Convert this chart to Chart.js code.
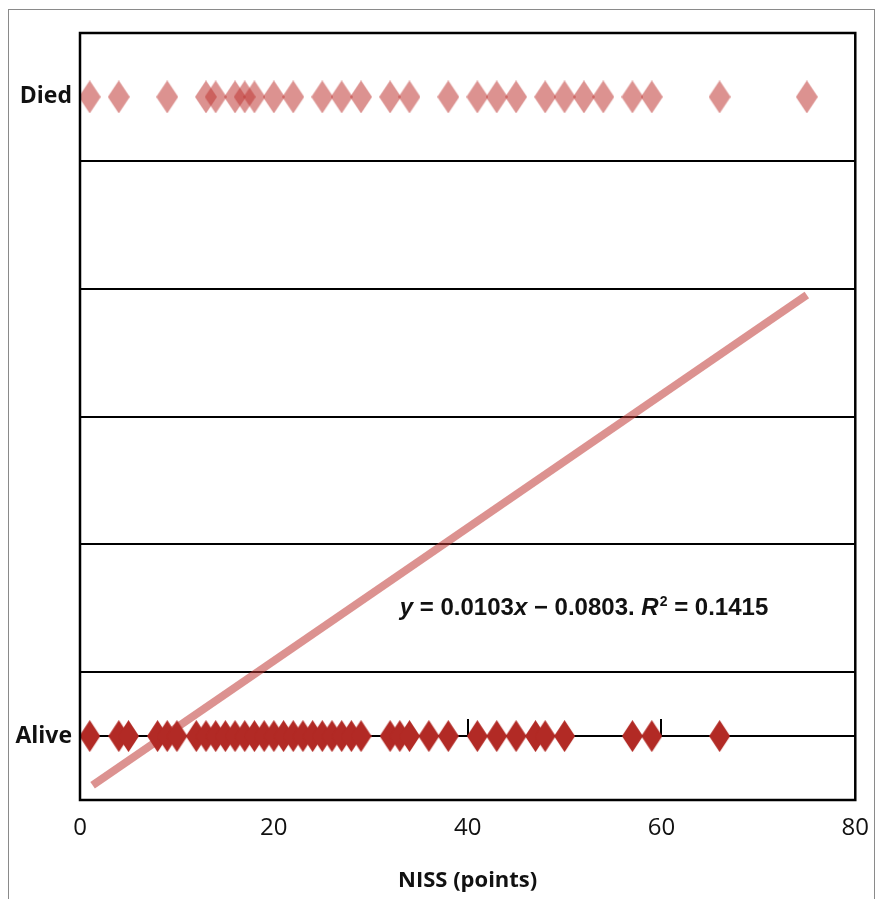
<!DOCTYPE html>
<html>
<head>
<meta charset="utf-8">
<script src="https://cdn.jsdelivr.net/npm/chart.js@4/dist/chart.umd.min.js"></script>
<style>
html, body { margin: 0; padding: 0; background: #fff; }
#wrap { position: relative; width: 883px; height: 899px; overflow: hidden; }
#frame { position: absolute; left: 8px; top: 9px; width: 867px; height: 900px; border: 1px solid #8a8a8a; border-bottom: none; box-sizing: border-box; }
canvas { position: absolute; left: 0; top: 0; }
</style>
</head>
<body>
<div id="wrap">
  <div id="frame"></div>
  <canvas id="myChart" width="883" height="899"></canvas>
</div>
<script>
// NISS of patients who died (outcome 1) and survived (outcome 0)
var diedNiss = [1, 4, 9, 13, 14, 16, 17, 18, 20, 22, 25, 27, 29, 32, 34, 38, 41, 43, 45, 48, 50, 52, 54, 57, 59, 66, 75];
var aliveNiss = [1, 4, 5, 8, 9, 10, 12, 13, 14, 15, 16, 17, 18, 19, 20, 21, 22, 23, 24, 25, 26, 27, 28, 29,
                 32, 33, 34, 36, 38, 41, 43, 45, 47, 48, 50, 57, 59, 66];
var outcomeNames = { 0: "Alive", 1: "Died" };
// fitted line y = 0.0103x - 0.0803, ends as drawn
var trendX = [1.3, 75];
var trendY = [-0.077, 0.69];
var yTickValues = [-0.1, 0, 0.1, 0.3, 0.5, 0.7, 0.9, 1, 1.1];
var xTickValues = [0, 20, 40, 60, 80];
var xMarks = [40, 60];
var equationParts = [
  { t: "y", it: true }, { t: " = 0.0103" }, { t: "x", it: true }, { t: " \u2212 0.0803. " },
  { t: "R", it: true }, { t: "2", sup: true }, { t: " = 0.1415" }
];

function diamond(w, h, color) {
  var c = document.createElement("canvas");
  c.width = w; c.height = h;
  var g = c.getContext("2d");
  g.fillStyle = color;
  g.beginPath();
  g.moveTo(w / 2, 0); g.lineTo(w, h / 2); g.lineTo(w / 2, h); g.lineTo(0, h / 2);
  g.closePath();
  g.fill();
  return c;
}

var pale = "rgba(192,57,52,0.55)";
var dark = "#b22a25";

var framePlugin = {
  id: "framePlugin",
  beforeDatasetsDraw: function (chart) {
    var ctx = chart.ctx, xs = chart.scales.x, ys = chart.scales.y;
    ctx.save();
    ctx.strokeStyle = "#000";
    ctx.lineWidth = 2;
    var y0 = ys.getPixelForValue(0);
    xMarks.forEach(function (v) {
      var px = Math.round(xs.getPixelForValue(v));
      ctx.beginPath(); ctx.moveTo(px, y0); ctx.lineTo(px, y0 - 17); ctx.stroke();
    });
    ctx.restore();
  },
  afterDraw: function (chart) {
    var ctx = chart.ctx, a = chart.chartArea, xs = chart.scales.x, ys = chart.scales.y;
    ctx.save();
    ctx.strokeStyle = "#000";
    ctx.lineWidth = 2.5;
    ctx.strokeRect(a.left, a.top, a.right - a.left, a.bottom - a.top);
    // equation
    var x = xs.getPixelForValue(33), y = ys.getPixelForValue(0.19);
    ctx.fillStyle = "#111";
    ctx.textBaseline = "alphabetic";
    equationParts.forEach(function (p) {
      if (p.sup) {
        ctx.font = "bold 14px 'Liberation Sans'";
        ctx.fillText(p.t, x + 1, y - 9);
        x += ctx.measureText(p.t).width + 1;
      } else {
        ctx.font = (p.it ? "italic " : "") + "bold 24px 'Liberation Sans'";
        ctx.fillText(p.t, x, y);
        x += ctx.measureText(p.t).width;
      }
    });
    ctx.restore();
  }
};

var ctx = document.getElementById("myChart");

var myChart = new Chart(ctx, {
  type: "scatter",
  data: {
    datasets: [
      {
        label: "Died",
        data: diedNiss.map(function (v) { return { x: v, y: 1 }; }),
        pointStyle: diamond(22, 33, pale),
        pointRadius: 11,
        order: 1
      },
      {
        label: "Alive",
        data: aliveNiss.map(function (v) { return { x: v, y: 0 }; }),
        pointStyle: diamond(21, 32, dark),
        pointRadius: 11,
        order: 2
      },
      {
        type: "line",
        label: "Trend",
        data: trendX.map(function (v, i) { return { x: v, y: trendY[i] }; }),
        borderColor: pale,
        borderWidth: 8,
        borderCapStyle: "butt",
        pointRadius: 0,
        fill: false,
        order: 3
      }
    ]
  },
  options: {
    responsive: false,
    animation: false,
    layout: { padding: { left: 0, top: 33, right: 25, bottom: 0 } },
    plugins: { legend: { display: false }, tooltip: { enabled: false } },
    scales: {
      x: {
        type: "linear",
        min: 0, max: 80,
        afterBuildTicks: function (s) { s.ticks = xTickValues.map(function (v) { return { value: v }; }); },
        afterFit: function (s) { s.height = 99; },
        grid: { display: false, drawTicks: false },
        border: { display: false },
        ticks: { color: "#111", padding: 14, font: { family: "'Open Sans'", size: 24 } },
        title: {
          display: true, text: "NISS (points)", color: "#111",
          padding: { top: 0, bottom: 5 },
          font: { family: "'Open Sans'", size: 22, weight: "bold" }
        }
      },
      y: {
        type: "linear",
        min: -0.1, max: 1.1,
        afterBuildTicks: function (s) { s.ticks = yTickValues.map(function (v) { return { value: v }; }); },
        afterFit: function (s) { s.width = 80; },
        grid: {
          drawTicks: false,
          lineWidth: 2,
          color: function (c) { return c.tick && c.tick.value === 1 ? "rgba(0,0,0,0)" : "#000"; }
        },
        border: { display: false },
        ticks: {
          autoSkip: false,
          padding: 8,
          color: "#111",
          font: { family: "'Open Sans'", size: 23, weight: "bold" },
          callback: function (v) { return outcomeNames[v] !== undefined ? outcomeNames[v] : ""; }
        }
      }
    }
  },
  plugins: [framePlugin]
});
</script>
</body>
</html>
